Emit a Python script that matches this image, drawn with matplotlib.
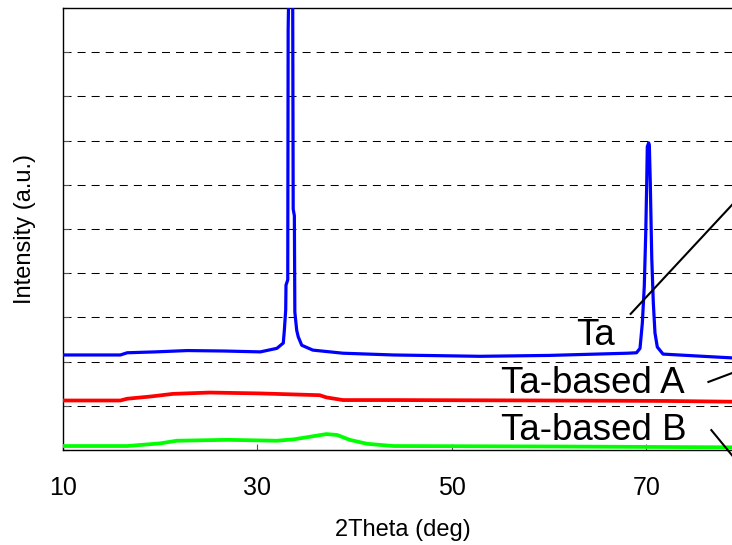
import numpy as np
import matplotlib.pyplot as plt

plt.rcParams['font.family'] = ['Liberation Sans', 'DejaVu Sans']

# 2theta / intensity readings for each film (intensity in arbitrary, offset units)
ta_x = [10.0, 15.9, 16.6, 19.5, 22.8, 26.5, 30.3, 32.0, 32.66, 32.77, 32.91, 32.94,
        33.12, 33.16, 33.3, 33.45, 33.62, 33.68, 33.80, 33.85, 34.04, 34.2, 34.56,
        35.7, 38.8, 44.0, 52.9, 60.0, 68.1, 69.0, 69.36, 69.6, 69.8, 69.95, 70.05,
        70.11, 70.25, 70.32, 70.42, 70.57, 70.73, 70.9, 71.14, 71.73, 75.0, 80.0]
ta_y = [2.15, 2.15, 2.20, 2.22, 2.25, 2.24, 2.22, 2.30, 2.42, 2.71, 3.17, 3.73,
        3.85, 9.5, 11.5, 12.5, 11.0, 5.45, 5.30, 3.12, 2.71, 2.56, 2.37,
        2.26, 2.19, 2.15, 2.12, 2.14, 2.19, 2.20, 2.30, 2.87, 3.70, 4.90, 6.03,
        6.86, 6.95, 6.90, 6.03, 4.34, 3.33, 2.65, 2.33, 2.17, 2.13, 2.07]

a_x = [10.0, 15.9, 16.6, 19.0, 21.3, 25.1, 30.3, 36.4, 37.1, 38.8, 44.0, 60.0, 72.0, 80.0]
a_y = [1.12, 1.12, 1.16, 1.21, 1.27, 1.30, 1.28, 1.24, 1.19, 1.13, 1.13, 1.12, 1.11, 1.09]

b_x = [10.0, 16.6, 20.0, 21.7, 26.9, 32.0, 33.7, 35.4, 37.1, 38.2, 39.5, 41.3, 44.0, 60.0, 80.0]
b_y = [0.09, 0.09, 0.15, 0.21, 0.23, 0.21, 0.24, 0.30, 0.36, 0.34, 0.23, 0.14, 0.09, 0.08, 0.06]

labels = ['Ta', 'Ta-based A', 'Ta-based B']
label_pos = [(64.8, 2.38), (64.5, 1.28), (64.6, 0.23)]
# leader lines running off to the right
leaders = [([68.4, 81.0], [3.08, 6.06]),
           ([76.4, 81.0], [1.54, 1.92]),
           ([76.7, 81.0], [0.45, -0.70])]

xticks = [10, 30, 50, 70]

fig = plt.figure(figsize=(7.32, 5.45), dpi=100)
ax = fig.add_axes([0.0861, 0.1743, 0.9295, 0.811])

for yy in range(1, 10):
    ax.axhline(yy, color='black', lw=0.75, dashes=(7.7, 5.8), zorder=1)

ax.plot(ta_x, ta_y, color='#0000ff', lw=2.3, zorder=3)
ax.plot(a_x, a_y, color='#ff0000', lw=2.7, zorder=3)
ax.plot(b_x, b_y, color='#00ff00', lw=2.7, zorder=3)

for text, (tx, ty) in zip(labels, label_pos):
    ax.text(tx, ty, text, fontsize=26.5, ha='center', va='baseline', zorder=4)
for lx, ly in leaders:
    ax.plot(lx, ly, color='black', lw=1.5, clip_on=False, zorder=4)

ax.set_xlim(10, 80)
ax.set_ylim(0, 10)
ax.set_xticks(xticks)
ax.set_yticks(np.arange(0, 11))
ax.set_yticklabels([])
ax.tick_params(axis='both', direction='in', length=4.5, width=0.8, color='#555555')
ax.tick_params(axis='x', labelsize=18, pad=19)
for s in ax.spines.values():
    s.set_linewidth(1.0)

ax.set_xlabel('2Theta (deg)', fontsize=17)
ax.xaxis.set_label_coords(0.5, -0.155)
ax.set_ylabel('Intensity (a.u.)', fontsize=17)
ax.yaxis.set_label_coords(-0.04, 0.5)

fig.savefig('out.png', dpi=100)
